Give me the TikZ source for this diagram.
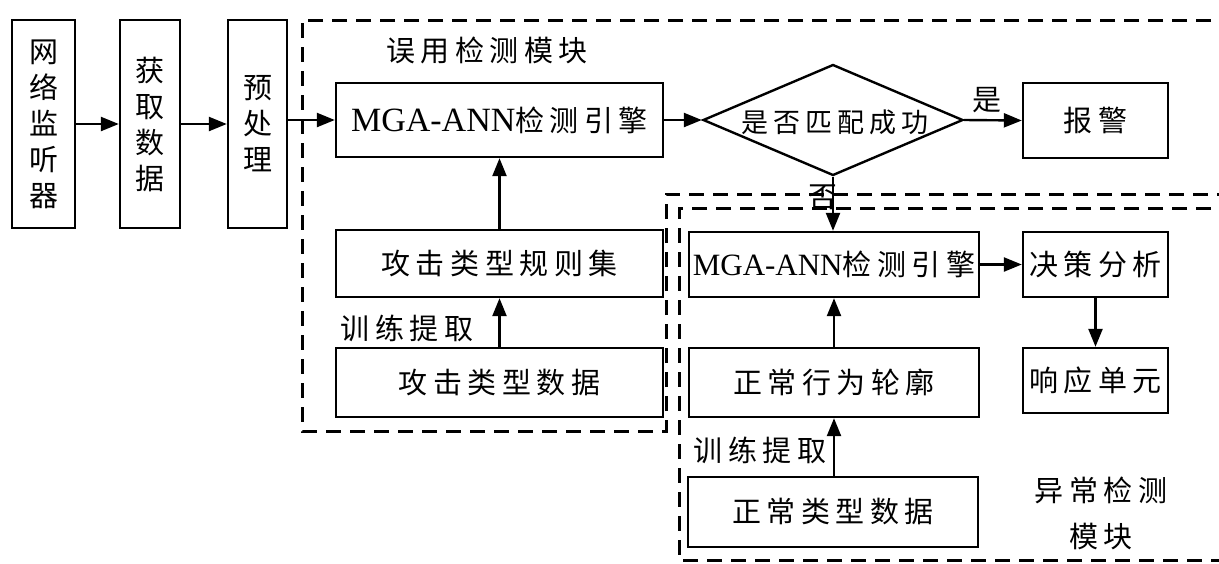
\documentclass[tikz,border=0pt]{standalone}
\usepackage{fontspec}
\setmainfont{Noto Sans CJK SC}
\newfontfamily\lat{Liberation Serif}
\usetikzlibrary{arrows.meta,shapes.geometric}
\newcount\cjkcc
\cjkcc="4E00
\loop
  \XeTeXcharclass\cjkcc=1
  \advance\cjkcc by 1
\ifnum\cjkcc<"A000 \repeat
\XeTeXinterchartokenstate=1
\XeTeXinterchartoks 1 1 = {\hspace{0.19em}}
\tikzset{
  box/.style={draw, line width=2.4pt, inner sep=0pt, font=\fontsize{29}{36}\selectfont},
  dashbox/.style={line width=3pt, dash pattern=on 15pt off 9pt},
  arr/.style={line width=2.4pt, -{Triangle[length=18pt,width=14pt]}},
  lbl/.style={inner sep=0pt, font=\fontsize{29}{36}\selectfont},
}
\begin{document}
\begin{tikzpicture}[x=1pt,y=-1pt]
\clip (0,0) rectangle (1219,563);
\fill[white] (0,0) rectangle (1219,563);
% dashed module frames
\draw[dashbox] (1235,20) -- (302,20) -- (302,431) -- (666,431) -- (666,194) -- (1235,194);
\draw[dashbox] (1235,208) -- (679,208) -- (679,560) -- (1235,560);
% left chain
\node[box, minimum width=63, minimum height=208, align=center] (net) at (43.5,124) {网\\络\\监\\听\\器};
\node[box, minimum width=60, minimum height=208, align=center] (get) at (150,124) {获\\取\\数\\据};
\node[box, minimum width=59, minimum height=208, align=center] (pre) at (257.5,124) {预\\处\\理};
% misuse module
\node[lbl] (mislbl) at (487,50) {误用检测模块};
\node[box, minimum width=327, minimum height=74] (mga1) at (499.5,120) {{\lat\fontsize{34}{36}\selectfont MGA-ANN}检测引擎};
\node[box, minimum width=327, minimum height=67] (rules) at (499.5,263.5) {攻击类型规则集};
\node[box, minimum width=327, minimum height=69] (atk) at (499.5,382.5) {攻击类型数据};
\node[lbl] (tr1) at (407,328) {训练提取};
% decision
\node[draw, line width=2.4pt, diamond, minimum width=260, minimum height=111, inner sep=0pt] (dia) at (833,120) {};
\node[lbl, font=\fontsize{27}{34}\selectfont] (diatext) at (835,122) {是否匹配成功};
\node[box, minimum width=145, minimum height=75] (alarm) at (1095.5,120.5) {报警};
\node[lbl] (yes) at (987,100) {是};
\node[lbl] (no) at (823,197) {否};
% anomaly module
\node[box, minimum width=290, minimum height=65] (mga2) at (834,264.5) {{\lat\fontsize{31}{36}\selectfont MGA-ANN}检测引擎};
\node[box, minimum width=145, minimum height=65] (dec) at (1095.5,264.5) {决策分析};
\node[box, minimum width=145, minimum height=65] (resp) at (1095.5,380.5) {响应单元};
\node[box, minimum width=290, minimum height=69] (norm) at (834,382.5) {正常行为轮廓};
\node[box, minimum width=290, minimum height=70] (normd) at (833,512) {正常类型数据};
\node[lbl] (tr2) at (760,450) {训练提取};
\node[lbl] (anlbl1) at (1101,490) {异常检测};
\node[lbl] (anlbl2) at (1101,537) {模块};
% connectors
\draw[arr] (net) -- (get);
\draw[arr] (get) -- (pre);
\draw[arr] (pre.east |- mga1.west) -- (mga1.west);
\draw[arr] (mga1) -- (dia.west);
\draw[arr] (dia.east) -- (alarm.west);
\draw[arr] (dia.south) -- (dia.south |- mga2.north);
\draw[arr] (mga2) -- (dec);
\draw[arr] (dec) -- (resp);
\draw[arr] (norm.north) -- (norm.north |- mga2.south);
\draw[arr] (normd.north -| norm.north) -- (norm.south);
\draw[arr] (rules.north) -- (mga1.south);
\draw[arr] (atk.north) -- (rules.south);
\end{tikzpicture}
\end{document}
